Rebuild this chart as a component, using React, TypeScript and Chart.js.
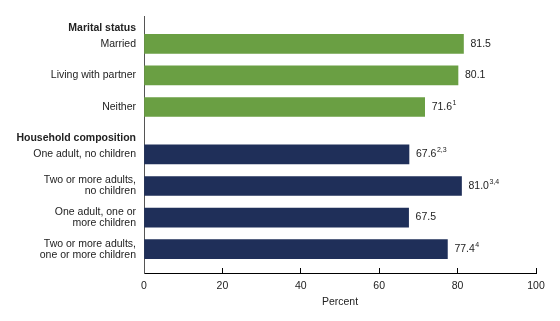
import React, { useEffect, useRef } from "react";
import { Chart, registerables } from "chart.js";

Chart.register(...registerables);

const groupTitles = ["Marital status", "Household composition"];
const maritalLabels: (string | string[])[] = ["Married", "Living with partner", "Neither"];
const maritalValues = [81.5, 80.1, 71.6];
const maritalNotes = ["", "", "1"];
const householdLabels: (string | string[])[] = [
  "One adult, no children",
  ["Two or more adults,", "no children"],
  ["One adult, one or", "more children"],
  ["Two or more adults,", "one or more children"],
];
const householdValues = [67.6, 81.0, 67.5, 77.4];
const householdNotes = ["2,3", "3,4", "", "4"];
const groupColors = ["#6a9f43", "#1f2f59"];
const xTicks = [0, 20, 40, 60, 80, 100];

const FONT = "'Liberation Sans', Arial, sans-serif";

type Row = { label: string | string[]; value: number | null; note: string; header: boolean; blank: boolean; color: string };

function buildRows(): Row[] {
  const groups = [
    { labels: maritalLabels, values: maritalValues, notes: maritalNotes },
    { labels: householdLabels, values: householdValues, notes: householdNotes },
  ];
  const rows: Row[] = [];
  groups.forEach((g, gi) => {
    rows.push({ label: groupTitles[gi], value: null, note: "", header: true, blank: false, color: groupColors[gi] });
    g.labels.forEach((l, i) => {
      rows.push({ label: l, value: g.values[i], note: g.notes[i], header: false, blank: false, color: groupColors[gi] });
      rows.push({ label: "", value: null, note: "", header: false, blank: true, color: groupColors[gi] });
    });
  });
  return rows;
}

export default function App() {
  const ref = useRef<HTMLCanvasElement>(null);
  useEffect(() => {
    const rows = buildRows();
    const barRows = rows
      .map((r, i) => ({ r, i }))
      .filter((o) => o.r.value != null);
    const labelPlugin = {
      id: "valueLabels",
      afterDatasetsDraw(chart: any) {
        const ctx = chart.ctx;
        const meta = chart.getDatasetMeta(0);
        ctx.save();
        ctx.fillStyle = "#222";
        ctx.textBaseline = "middle";
        ctx.textAlign = "left";
        meta.data.forEach((el: any, i: number) => {
          const r = barRows[i].r;
          const txt = (r.value as number).toFixed(1);
          const x = el.x + 7;
          const y = el.y;
          ctx.font = `10.5px ${FONT}`;
          ctx.fillText(txt, x, y);
          if (r.note) {
            const w = ctx.measureText(txt).width;
            ctx.font = `7px ${FONT}`;
            ctx.fillText(r.note, x + w + 0.5, y - 4);
          }
        });
        ctx.restore();
      },
    };
    const chart = new Chart(ref.current!, {
      type: "bar",
      data: {
        datasets: [
          {
            data: barRows.map((o) => ({ x: o.r.value, y: o.i })) as any,
            backgroundColor: barRows.map((o) => o.r.color),
            barThickness: 19,
            borderWidth: 0,
          },
        ],
      },
      options: {
        indexAxis: "y",
        animation: false,
        responsive: false,
        devicePixelRatio: 1,
        layout: { padding: { top: 16, right: 24, left: 0, bottom: 0 } },
        plugins: { legend: { display: false }, tooltip: { enabled: false } },
        scales: {
          x: {
            type: "linear",
            min: 0,
            max: 100,
            offset: false,
            afterBuildTicks: (scale: any) => {
              scale.ticks = xTicks.map((v) => ({ value: v }));
            },
            afterFit: (scale: any) => {
              scale.height = 48;
              scale.paddingLeft = 0;
              scale.paddingRight = 0;
            },
            grid: {
              display: true,
              offset: false,
              drawOnChartArea: false,
              drawTicks: true,
              tickLength: -5,
              color: "#000",
              lineWidth: 1,
            },
            border: { display: true, color: "#000", width: 1 },
            ticks: {
              padding: 12,
              color: "#222",
              font: { family: FONT, size: 10.5 },
            },
            title: {
              display: true,
              text: "Percent",
              color: "#222",
              font: { family: FONT, size: 10.5 },
              padding: { top: 0, bottom: 13 },
            },
          },
          y: {
            type: "linear",
            reverse: true,
            offset: false,
            min: -0.76,
            max: 15.51,
            afterBuildTicks: (scale: any) => {
              scale.ticks = rows
                .map((r, i) => ({ r, i }))
                .filter((o) => !o.r.blank)
                .map((o) => ({ value: o.i }));
            },
            afterFit: (scale: any) => {
              scale.width = 144;
              scale.paddingTop = 0;
              scale.paddingBottom = 0;
            },
            grid: { display: false, drawTicks: false, offset: false },
            border: { display: true, color: "#555", width: 1 },
            ticks: {
              padding: 8,
              color: "#222",
              autoSkip: false,
              callback: (v: any) => rows[v].label as any,
              font: (c: any) => ({
                family: FONT,
                size: 10.5,
                weight: c.tick && rows[c.tick.value] && rows[c.tick.value].header ? "bold" : "normal",
                lineHeight: 1.05,
              }),
            },
          },
        },
      },
      plugins: [labelPlugin],
    });
    return () => chart.destroy();
  }, []);
  return (
    <div style={{ position: "absolute", left: 0, top: 0, width: 560, height: 321, background: "#fff" }}>
      <canvas ref={ref} width={560} height={321} style={{ width: 560, height: 321 }} />
    </div>
  );
}
